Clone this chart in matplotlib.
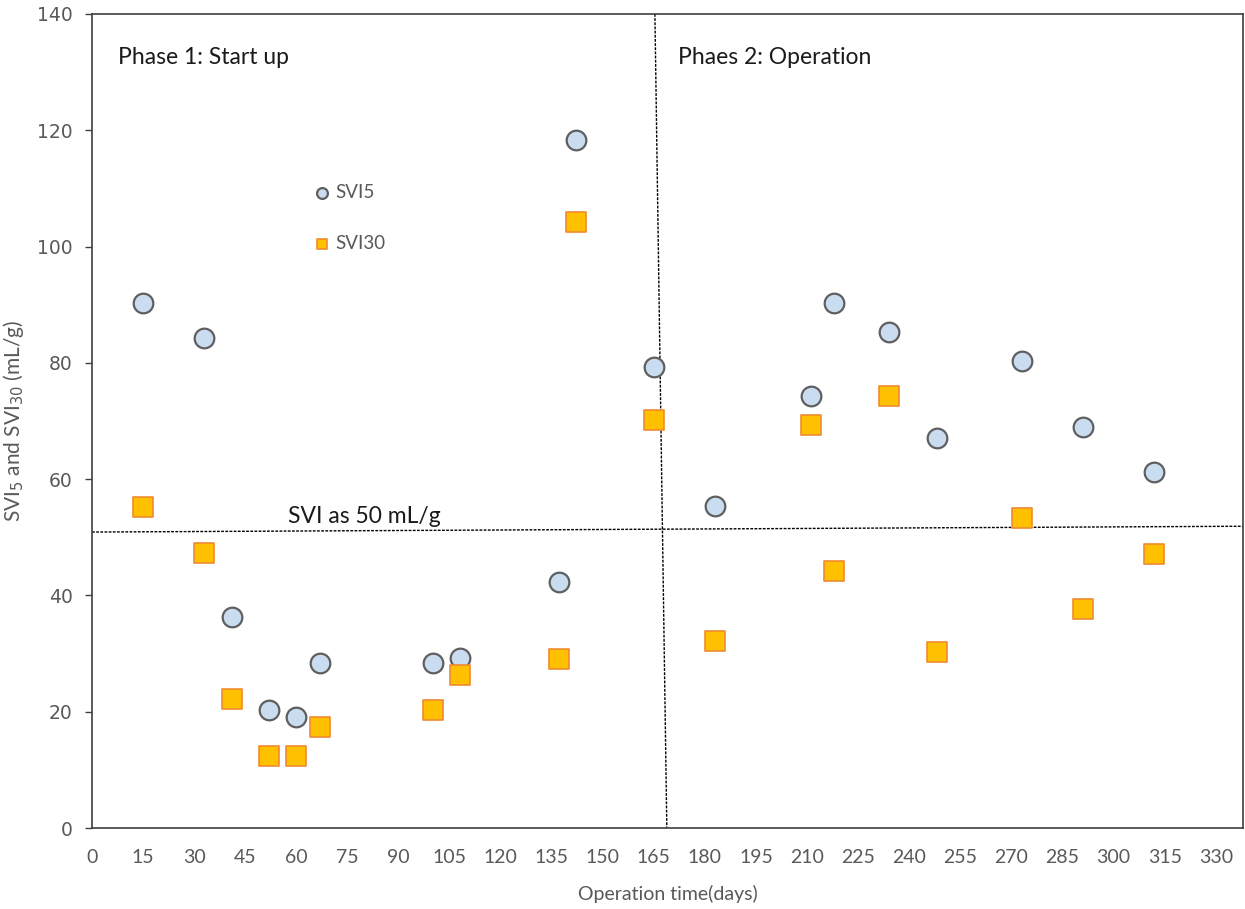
import numpy as np
import matplotlib.pyplot as plt

# operation day for each sampling
days = [15, 33, 41, 52, 60, 67, 100, 108, 137, 142, 165, 183, 211, 218, 234, 248, 273, 291, 312]
svi5 = [90.3, 84.3, 36.3, 20.3, 19.1, 28.3, 28.3, 29.2, 42.3, 118.3, 79.3, 55.3,
        74.3, 90.3, 85.3, 67.1, 80.3, 69.0, 61.3]
svi30 = [55.2, 47.3, 22.2, 12.3, 12.3, 17.3, 20.3, 26.3, 29.1, 104.2, 70.2, 32.2,
         69.3, 44.2, 74.3, 30.2, 53.4, 37.6, 47.2]

xticks = list(range(0, 331, 15))
yticks = list(range(0, 141, 20))

# hand drawn guide lines (slightly tilted in the original)
phase_line_x = [165.3, 168.8]
phase_line_y = [140, 0]
limit_line_x = [0, 338]
limit_line_y = [50.9, 51.9]

gray = '#595959'

fig = plt.figure(figsize=(12.45, 9.09), dpi=100)
ax = fig.add_axes([0.0739, 0.0891, 0.9245, 0.8955])

ax.scatter(days, svi5, s=200, marker='o', facecolor='#cadcf0', edgecolor='#5f5f5f',
           linewidth=1.6, zorder=3, label='SVI5')
ax.scatter(days, svi30, s=200, marker='s', facecolor='#ffc000', edgecolor='#f08a30',
           linewidth=1.2, zorder=3, label='SVI30')

ax.plot(phase_line_x, phase_line_y, color='black', lw=1, ls=(0, (2, 1)), zorder=2)
ax.plot(limit_line_x, limit_line_y, color='black', lw=1, ls=(0, (2, 1)), zorder=2)

ax.set_xlim(0, 338)
ax.set_ylim(0, 140)
ax.set_xticks(xticks)
ax.set_yticks(yticks)
ax.tick_params(axis='x', length=0, pad=15, labelsize=14, labelcolor=gray)
ax.tick_params(axis='y', length=5, width=1, color='#404040', pad=9, labelsize=13.5, labelcolor=gray)
for lab in ax.get_xticklabels():
    lab.set_fontfamily('Lato')

for sp in ax.spines.values():
    sp.set_color('#404040')
    sp.set_linewidth(1.2)

ax.set_xlabel('Operation time(days)', fontsize=14, color=gray, family='Lato', labelpad=14)
ax.set_ylabel('SVI$_5$ and SVI$_{30}$ (mL/g)', fontsize=15, color=gray, family='Lato', labelpad=8)

ax.text(7.5, 132.5, 'Phase 1: Start up', fontsize=16.5, family='Lato', color='#1a1a1a', va='center')
ax.text(172, 132.5, 'Phaes 2: Operation', fontsize=16.5, family='Lato', color='#1a1a1a', va='center')
ax.text(57.5, 53.5, 'SVI as 50 mL/g', fontsize=16.5, family='Lato', color='#1a1a1a', va='center')

leg = ax.legend(loc='upper left', bbox_to_anchor=(0.177, 0.812), frameon=False,
                markerscale=0.55, labelspacing=1.8, handletextpad=0.2,
                handlelength=1.0, prop={'family': 'Lato', 'size': 13.5})
for t in leg.get_texts():
    t.set_color(gray)

fig.savefig('out.png', dpi=100)
